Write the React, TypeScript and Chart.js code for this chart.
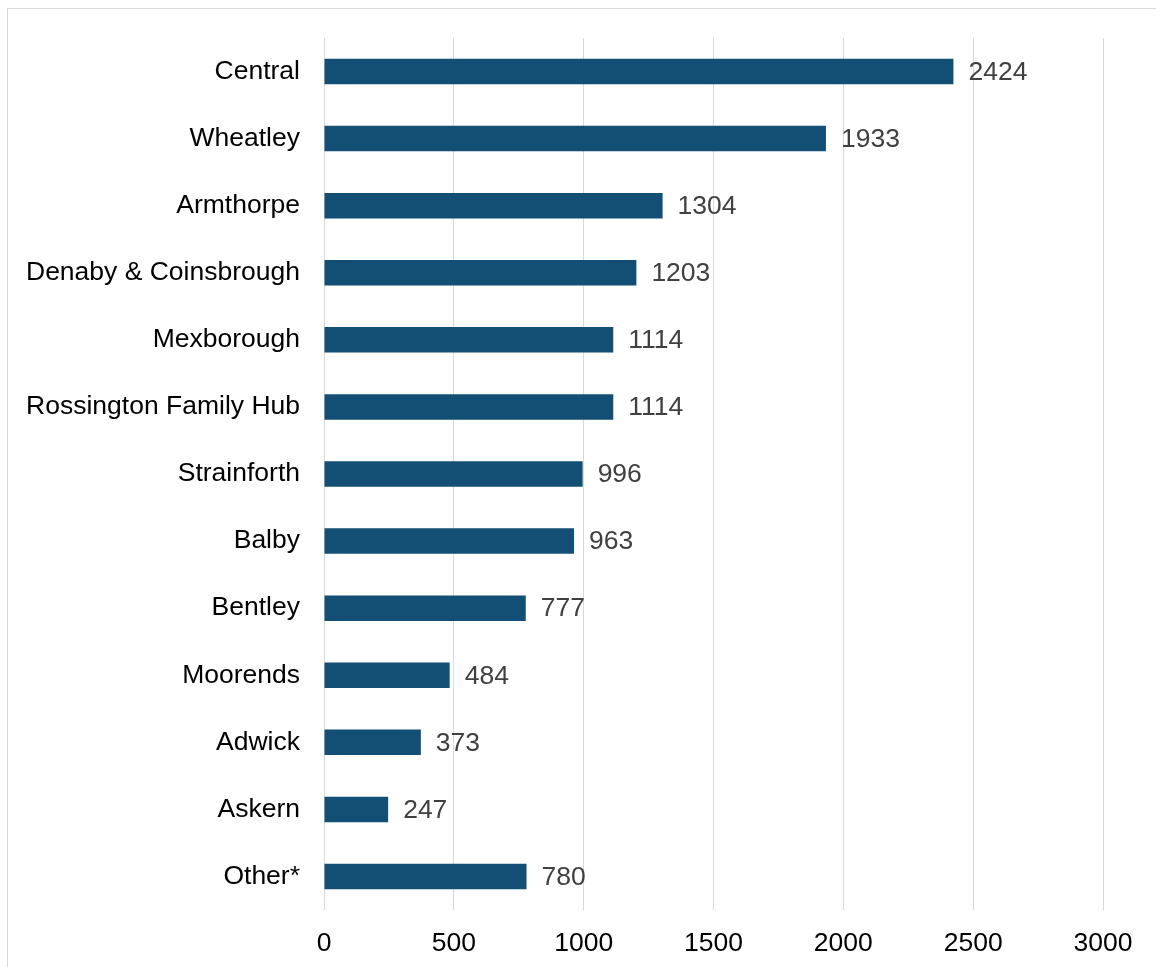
import React, { useEffect, useRef } from "react";
import { Chart, registerables } from "chart.js";

Chart.register(...registerables);

const categories = [
  "Central",
  "Wheatley",
  "Armthorpe",
  "Denaby & Coinsbrough",
  "Mexborough",
  "Rossington Family Hub",
  "Strainforth",
  "Balby",
  "Bentley",
  "Moorends",
  "Adwick",
  "Askern",
  "Other*",
];
const values = [2424, 1933, 1304, 1203, 1114, 1114, 996, 963, 777, 484, 373, 247, 780];
const xTicks = [0, 500, 1000, 1500, 2000, 2500, 3000];

const FONT = "'Liberation Sans', Arial, sans-serif";
const FS = 26.5;
const W = 1156;
const H = 967;
const LEFT = 324;
const TOP = 38;
const RIGHT_PAD = 53;
const BOTTOM = 910;

const valueLabels = {
  id: "valueLabels",
  afterDatasetsDraw(chart: any) {
    const ctx = chart.ctx;
    const meta = chart.getDatasetMeta(0);
    ctx.save();
    ctx.font = `${FS}px ${FONT}`;
    ctx.fillStyle = "#404040";
    ctx.textAlign = "left";
    ctx.textBaseline = "middle";
    meta.data.forEach((bar: any, i: number) => {
      ctx.fillText(String(values[i]), bar.x + 15, bar.y + 1);
    });
    ctx.restore();
  },
};

export default function App() {
  const ref = useRef<HTMLCanvasElement | null>(null);
  useEffect(() => {
    document.body.style.overflow = "hidden";
    const chart = new Chart(ref.current as HTMLCanvasElement, {
      type: "bar",
      data: {
        labels: categories,
        datasets: [
          {
            data: values,
            backgroundColor: "#134F74",
            borderWidth: 0,
            barPercentage: 0.38,
            categoryPercentage: 1,
          },
        ],
      },
      options: {
        indexAxis: "y",
        responsive: false,
        animation: false,
        layout: { padding: { left: 0, top: TOP, right: RIGHT_PAD, bottom: 0 } },
        plugins: { legend: { display: false }, tooltip: { enabled: false } },
        scales: {
          x: {
            min: 0,
            max: 3000,
            afterBuildTicks: (s: any) => {
              s.ticks = xTicks.map((v) => ({ value: v }));
            },
            afterFit: (s: any) => {
              s.height = H - BOTTOM;
            },
            grid: { color: "#d9d9d9", lineWidth: 1, drawTicks: false },
            border: { display: false },
            ticks: {
              color: "#000000",
              font: { family: FONT, size: FS },
              padding: 18,
              maxRotation: 0,
              callback: (v: any) => String(v),
            },
          },
          y: {
            afterFit: (s: any) => {
              s.width = LEFT;
              s.paddingTop = 0;
              s.paddingBottom = 0;
            },
            grid: { display: false, drawTicks: false },
            border: { display: false },
            ticks: {
              color: "#000000",
              font: { family: FONT, size: FS },
              padding: 24,
            },
          },
        },
      },
      plugins: [valueLabels],
    });
    return () => chart.destroy();
  }, []);

  return (
    <div
      style={{
        position: "fixed",
        left: 0,
        top: 0,
        width: W,
        height: H,
        overflow: "hidden",
        background: "#ffffff",
      }}
    >
      <div
        style={{
          position: "absolute",
          left: 7,
          top: 8,
          width: 1200,
          height: 1000,
          border: "1px solid #d9d9d9",
        }}
      />
      <canvas
        ref={ref}
        width={W}
        height={H}
        style={{ position: "absolute", left: 0, top: 0, width: W, height: H }}
      />
    </div>
  );
}
